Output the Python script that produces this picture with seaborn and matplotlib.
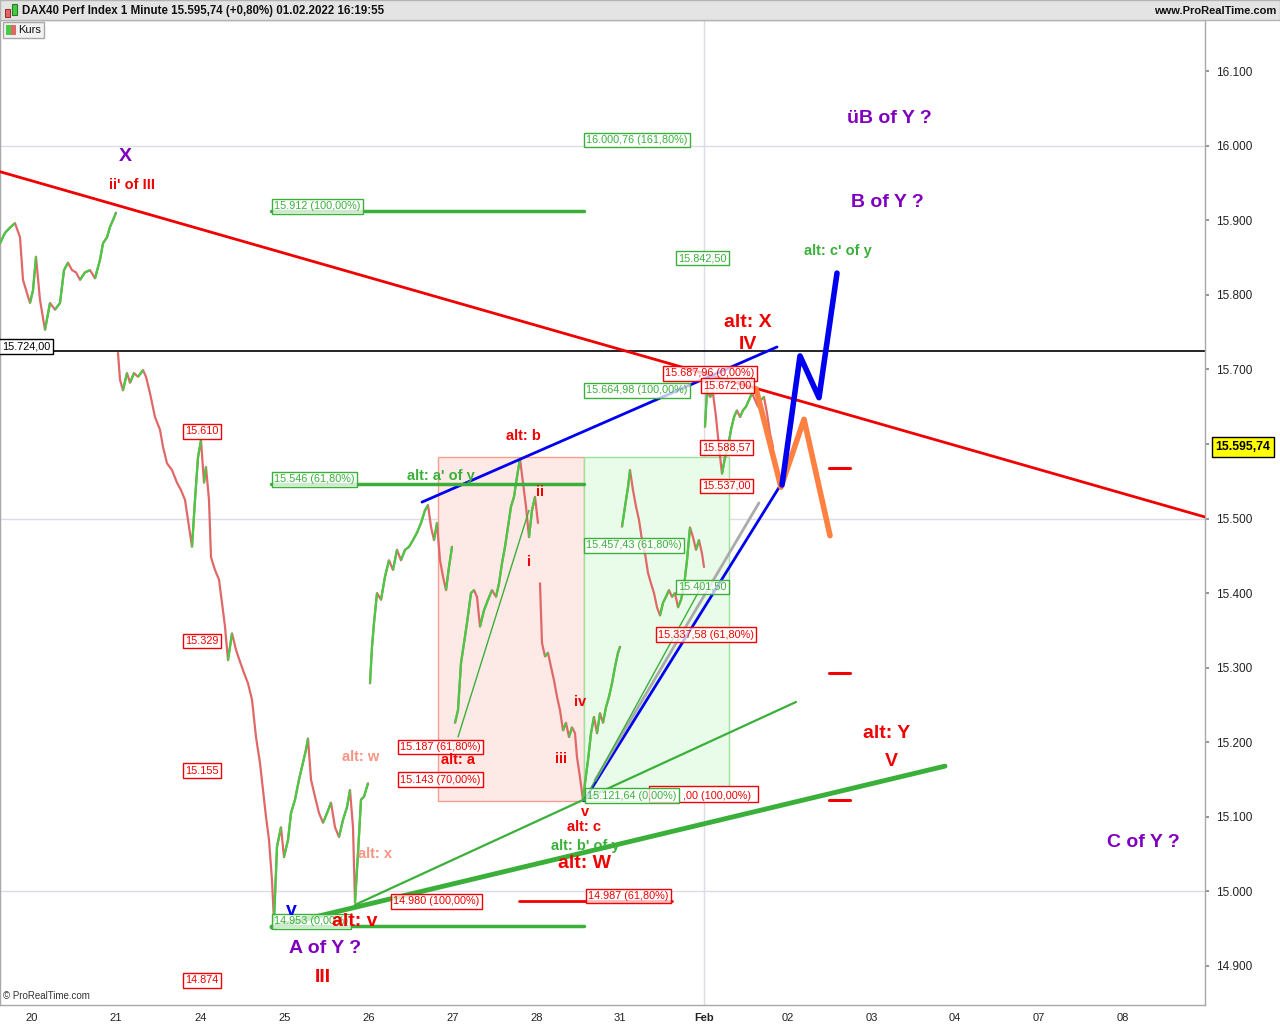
import numpy as np
import pandas as pd
import seaborn as sns
import matplotlib.pyplot as plt
from matplotlib.collections import LineCollection
from matplotlib.patches import Rectangle

# ---------------------------------------------
# DAX40 1 Minute - Kursverlauf
# ---------------------------------------------
bars = [0, 5, 10, 15, 20, 23, 27, 30, 33, 36, 40, 45, 50, 55, 60, 64, 68, 72, 76, 80,
        85, 90, 95, 100, 103, 107, 110, 113, 116,
        118, 120, 123, 127, 130, 134, 138, 143, 146, 150, 155, 160, 163, 167, 172, 177,
        181, 185, 189, 192, 195, 198, 201, 204, 206, 209, 211, 215, 219, 222, 225, 228,
        232, 236, 240, 244, 248, 252, 256, 260, 263, 266, 269, 272, 274, 277, 281, 284,
        288, 291, 295, 299, 302, 306, 308, 311, 315, 319, 323, 327, 331, 335, 339, 343,
        347, 350, 353, 355, 358, 361, 364, 368,
        370, 372, 374, 377, 381, 385, 389, 393, 397, 401, 405, 409, 413, 417, 421, 425,
        428, 431, 434, 437, 440, 443, 446, 449, 452,
        455, 458, 461, 464, 467, 471, 474, 477, 480, 484, 488, 492, 496, 499, 502, 505,
        508, 511, 514, 517, 520, 523, 526, 529, 532, 535, 538,
        540, 542, 545, 548, 551, 554, 557, 560, 563, 566, 569, 572, 575, 577, 580, 583,
        585, 588, 591, 594, 597, 600, 603, 606, 609, 612, 615, 618, 620,
        622, 625, 628, 630, 633, 636, 639, 642, 645, 648, 651, 654, 657, 660, 663, 666,
        669, 672, 675, 678, 681, 684, 687, 690, 693, 696, 699, 702, 704,
        705, 707, 710, 713, 716, 719, 722, 725, 728, 731, 734, 737, 740, 743, 746, 749,
        752, 755, 758, 761, 764, 767, 770, 773]
closes = [15869, 15883, 15890, 15896, 15877, 15820, 15802, 15789, 15806, 15851, 15793,
          15753, 15789, 15780, 15789, 15833, 15843, 15833, 15830, 15820, 15830, 15833,
          15822, 15847, 15869, 15877, 15891, 15900, 15910,
          15722, 15686, 15672, 15695, 15682, 15695, 15690, 15699, 15690, 15668, 15636,
          15619, 15596, 15574, 15565, 15548, 15538, 15525, 15489, 15462, 15525, 15582,
          15605, 15548, 15569, 15525, 15448, 15431, 15418, 15387, 15355, 15310, 15346,
          15324, 15308, 15293, 15279, 15257, 15207, 15172, 15136, 15100, 15069, 15015,
          14960, 15060, 15086, 15046, 15069, 15105, 15123, 15150, 15167, 15190, 15205,
          15150, 15127, 15105, 15092, 15105, 15119, 15086, 15073, 15096, 15113, 15136,
          15086, 14985, 15051, 15123, 15127, 15145,
          15279, 15328, 15360, 15400, 15391, 15422, 15444, 15431, 15458, 15444, 15458,
          15462, 15471, 15481, 15494, 15511, 15518, 15489, 15471, 15494, 15444, 15422,
          15404, 15435, 15462,
          15226, 15243, 15306, 15333, 15360, 15400, 15404, 15395, 15355, 15377, 15391,
          15404, 15395, 15413, 15440, 15462, 15489, 15516, 15529, 15556, 15580, 15548,
          15516, 15475, 15511, 15529, 15494,
          15413, 15333, 15315, 15320, 15301, 15283, 15261, 15243, 15216, 15226, 15207,
          15220, 15212, 15180, 15153, 15122, 15145, 15176, 15212, 15234, 15212, 15239,
          15226, 15247, 15261, 15279, 15301, 15320, 15328,
          15489, 15516, 15542, 15565, 15538, 15516, 15498, 15471, 15453, 15427, 15413,
          15400, 15381, 15370, 15387, 15395, 15404, 15395, 15400, 15381, 15391, 15409,
          15444, 15488, 15475, 15458, 15471, 15453, 15435,
          15623, 15672, 15663, 15668, 15636, 15596, 15560, 15582, 15596, 15619, 15636,
          15645, 15636, 15645, 15650, 15659, 15668, 15659, 15650, 15659, 15663, 15641,
          15614, 15596]
# erste Kerze jeder neuen Handelssitzung (Kurslücke davor)
session_starts = [118, 370, 455, 540, 622, 705]

day_pos = [32, 116, 201, 285, 369, 453, 537, 620, 704, 788, 872, 955, 1039, 1123]
day_labels = ["20", "21", "24", "25", "26", "27", "28", "31", "Feb", "02", "03", "04", "07", "08"]
y_ticks = [14900, 15000, 15100, 15200, 15300, 15400, 15500, 15600, 15700, 15800, 15900, 16000, 16100]
last_price = 15595.74
ref_level = 15724.00

# Trendlinien
red_trend_x, red_trend_y = [0, 1205], [15965, 15502]
blue_upper_x, blue_upper_y = [422, 777], [15522, 15730]
blue_lower_x, blue_lower_y = [584, 782], [15121.6, 15548]
gray_line_x, gray_line_y = [595, 759], [15149, 15521]
green_thin1_x, green_thin1_y = [584, 702], [15121.6, 15410]
green_thin2_x, green_thin2_y = [458, 529], [15207, 15511]
green_thin3_x, green_thin3_y = [355, 796], [14982, 15254]
green_thick_x, green_thick_y = [272, 945], [14952, 15168]
blue_path_x, blue_path_y = [782, 800, 819, 837], [15545, 15718, 15662, 15829]
orange_path_x, orange_path_y = [756, 781, 804, 830], [15674, 15542, 15633, 15477]
red_marks = [15568, 15293, 15123]

# Fibonacci-Box
fib_x = [438, 584, 729]
fib_low, fib_high = 15121.64, 15582.5

# Fibo-Niveaus mit Linie
green_levels = [15912, 15546, 14953]

green_boxes = [("15.912 (100,00%)", 274, 15912), ("16.000,76 (161,80%)", 586, 16000.76),
               ("15.842,50", 678, 15842.5), ("15.664,98 (100,00%)", 586, 15664.98),
               ("15.546 (61,80%)", 274, 15546), ("15.457,43 (61,80%)", 586, 15457.43),
               ("15.401,50", 678, 15401.5), ("14.953 (0,00%)", 274, 14953)]
red_boxes = [("15.610", 185, 15610), ("15.329", 185, 15329), ("15.155", 185, 15155),
             ("14.874", 185, 14874), ("15.187 (61,80%)", 400, 15187),
             ("15.143 (70,00%)", 400, 15143), ("14.980 (100,00%)", 393, 14980),
             ("14.987 (61,80%)", 588, 14987), ("15.687,96 (0,00%)", 665, 15687.96),
             ("15.672,00", 703, 15672), ("15.588,57", 702, 15588.57),
             ("15.537,00", 702, 15537), ("15.337,58 (61,80%)", 658, 15337.58)]
# rote Box teilweise von der grünen verdeckt: nur der sichtbare Rest
red_hidden_box = (",00 (100,00%)", 683, 15121.64, 649, 758)
green_box_top = ("15.121,64 (0,00%)", 587, 15121.64)

purple_labels = [("X", 125, 15985), ("üB of Y ?", 889, 16037), ("B of Y ?", 887, 15924),
                 ("A of Y ?", 325, 14924), ("C of Y ?", 1143, 15065)]
red_big = [("alt: X", 748, 15763), ("IV", 748, 15733), ("alt: W", 585, 15037),
           ("alt: v", 355, 14960), ("III", 323, 14884), ("alt: Y", 887, 15212),
           ("V", 891, 15174)]
red_small = [("ii' of III", 132, 15947), ("alt: b", 523, 15611), ("ii", 540, 15536),
             ("i", 529, 15442), ("iv", 580, 15254), ("iii", 561, 15178), ("v", 585, 15107),
             ("alt: c", 584, 15086), ("alt: a", 458, 15176)]
salmon_labels = [("alt: w", 361, 15180), ("alt: x", 375, 15050)]
green_labels = [("alt: a' of y", 441, 15557), ("alt: b' of y", 585, 15061),
                ("alt: c' of y", 838, 15859)]

RED = "#F00000"
GREEN = "#3AB03A"
PURPLE = "#7F00BF"
BLUE = "#0000F0"

sns.set_theme(style="white")
plt.rcParams['font.family'] = ['Liberation Sans', 'DejaVu Sans']

fig = plt.figure(figsize=(12.8, 10.24), dpi=100)
ax = fig.add_axes([0, 19 / 1024, 1205 / 1280, 985 / 1024])
ax.set_xlim(0, 1205)
ax.set_ylim(14847.7, 16168.4)

# Raster
for g in [15000, 15500, 16000]:
    ax.axhline(g, color="#DCDCE6", lw=1, zorder=0)
ax.axvline(704, color="#DCDCE6", lw=1, zorder=0)

# Fibo-Box
ax.add_patch(Rectangle((fib_x[0], fib_low), fib_x[1] - fib_x[0], fib_high - fib_low,
                       fc="#FDE9E5", ec="#F4A090", lw=1, zorder=1))
ax.add_patch(Rectangle((fib_x[1], fib_low), fib_x[2] - fib_x[1], fib_high - fib_low,
                       fc="#E9FCE9", ec="#9BE29B", lw=1, zorder=1))

# Kurs
df = pd.DataFrame({"bar": bars, "close": closes})
df["session"] = np.searchsorted(session_starts, df["bar"], side="right")
sns.lineplot(data=df, x="bar", y="close", units="session", estimator=None,
             color="#E06868", lw=1.6, ax=ax, zorder=3)
segs = []
for i in range(1, len(df)):
    if df.session[i] == df.session[i - 1] and closes[i] >= closes[i - 1]:
        segs.append([(bars[i - 1], closes[i - 1]), (bars[i], closes[i])])
ax.add_collection(LineCollection(segs, colors="#44CC44", lw=1.6, zorder=3))

# Linien
ax.axhline(ref_level, color="black", lw=1.2, zorder=2)
ax.plot(red_trend_x, red_trend_y, color=RED, lw=2, zorder=4)
ax.plot(blue_upper_x, blue_upper_y, color=BLUE, lw=2, zorder=4)
ax.plot(blue_lower_x, blue_lower_y, color=BLUE, lw=2, zorder=4)
ax.plot(gray_line_x, gray_line_y, color="#AAAAAA", lw=2, zorder=4)
ax.plot(green_thin1_x, green_thin1_y, color=GREEN, lw=1, zorder=4)
ax.plot(green_thin2_x, green_thin2_y, color=GREEN, lw=1, zorder=4)
ax.plot(green_thin3_x, green_thin3_y, color=GREEN, lw=1.6, zorder=4)
ax.plot(green_thick_x, green_thick_y, color=GREEN, lw=3.5, zorder=4)
ax.plot(orange_path_x, orange_path_y, color="#FF8040", lw=4, zorder=5, solid_capstyle="round")
ax.plot(blue_path_x, blue_path_y, color=BLUE, lw=4, zorder=5)
for m in red_marks:
    ax.plot([829, 850], [m, m], color=RED, lw=2.2, zorder=4)
ax.plot([519, 672], [14987, 14987], color=RED, lw=2, zorder=4)
for lv in green_levels:
    ax.plot([271, 584], [lv, lv], color=GREEN, lw=2.5, zorder=4)

# Beschriftungs-Boxen
def box(s, x, y, color):
    ax.text(x, y, s, color=color, fontsize=7.8, ha="left", va="bottom", zorder=6,
            bbox=dict(boxstyle="square,pad=0.22", fc=(1, 1, 1, 0.75), ec=color, lw=1))

for s, x, y in red_boxes:
    box(s, x, y, RED)
for s, x, y in green_boxes:
    box(s, x, y, GREEN)

s, x, y, bx0, bx1 = red_hidden_box
ax.add_patch(Rectangle((bx0, y - 2.2), bx1 - bx0, 21.5, fc="white", ec=RED, lw=1, zorder=5.5))
ax.text(x, y, s, color=RED, fontsize=7.8, ha="left", va="bottom", zorder=5.6)
box(*green_box_top, GREEN)

ax.text(2, ref_level, "15.724,00", color="black", fontsize=7.8, ha="left", va="bottom",
        zorder=6, bbox=dict(boxstyle="square,pad=0.25", fc="white", ec="black", lw=1))

# Wellen-Beschriftungen
for s, x, y in purple_labels:
    ax.text(x, y, s, color=PURPLE, fontsize=14, fontweight="bold", ha="center", va="center", zorder=7)
for s, x, y in red_big:
    ax.text(x, y, s, color=RED, fontsize=14, fontweight="bold", ha="center", va="center", zorder=7)
for s, x, y in red_small:
    ax.text(x, y, s, color=RED, fontsize=10.5, fontweight="bold", ha="center", va="center", zorder=7)
for s, x, y in salmon_labels:
    ax.text(x, y, s, color="#F89482", fontsize=10.5, fontweight="bold", ha="center", va="center", zorder=7)
for s, x, y in green_labels:
    ax.text(x, y, s, color=GREEN, fontsize=10.5, fontweight="bold", ha="center", va="center", zorder=7)
ax.text(291, 14975, "v", color=BLUE, fontsize=14, fontweight="bold", ha="center", va="center", zorder=7)

# Achsen
ax.set_xticks(day_pos)
ax.set_xticklabels(day_labels, fontsize=8)
for lab in ax.get_xticklabels():
    if lab.get_text() == "Feb":
        lab.set_fontweight("bold")
ax.yaxis.tick_right()
ax.set_yticks(y_ticks)
ax.set_yticklabels(["" if v == 15600 else f"{v / 1000:.3f}" for v in y_ticks], fontsize=8.5)
ax.tick_params(axis="both", length=3, color="#888888", labelcolor="#222222", pad=3)
ax.tick_params(axis="y", pad=5)
ax.set_xlabel("")
ax.set_ylabel("")
for sp in ax.spines.values():
    sp.set_color("#A8A8A8")
    sp.set_linewidth(1)

# aktueller Kurs
ax.text(1243, last_price, "15.595,74", color="black", fontsize=8.8, fontweight="bold",
        ha="center", va="center", clip_on=False, zorder=8,
        bbox=dict(boxstyle="square,pad=0.3", fc="#FFFF00", ec="black", lw=1))

ax.text(3, 14853, "© ProRealTime.com", fontsize=7, color="#333333", ha="left", va="bottom")

# Kopfzeile
H = 1024
fig.add_artist(Rectangle((0, 1 - 20 / H), 1, 20 / H, transform=fig.transFigure,
                         fc="#E4E4E4", ec="#B4B4B4", lw=1))
fig.add_artist(Rectangle((5 / 1280, 1 - 17 / H), 5 / 1280, 8 / H, transform=fig.transFigure,
                         fc="#E06868", ec="#A03030", lw=0.8))
fig.add_artist(Rectangle((12 / 1280, 1 - 15 / H), 5 / 1280, 11 / H, transform=fig.transFigure,
                         fc="#44CC44", ec="#208020", lw=0.8))
fig.text(22 / 1280, 1 - 11 / H, "DAX40 Perf Index 1 Minute 15.595,74 (+0,80%) 01.02.2022 16:19:55",
         fontsize=8.3, fontweight="bold", ha="left", va="center", color="#111111")
fig.text(1276 / 1280, 1 - 11 / H, "www.ProRealTime.com", fontsize=8, fontweight="bold",
         ha="right", va="center", color="#111111")

# Legende "Kurs"
fig.add_artist(Rectangle((3 / 1280, 1 - 38 / H), 41 / 1280, 16 / H, transform=fig.transFigure,
                         fc="#F2F2F2", ec="#A8A8A8", lw=1))
fig.add_artist(Rectangle((6 / 1280, 1 - 35 / H), 5 / 1280, 10 / H, transform=fig.transFigure,
                         fc="#44CC44", ec="none"))
fig.add_artist(Rectangle((11 / 1280, 1 - 35 / H), 5 / 1280, 10 / H, transform=fig.transFigure,
                         fc="#E06868", ec="none"))
fig.text(18 / 1280, 1 - 30 / H, "Kurs", fontsize=8, ha="left", va="center", color="#111111")

fig.savefig("out.png", dpi=100)
